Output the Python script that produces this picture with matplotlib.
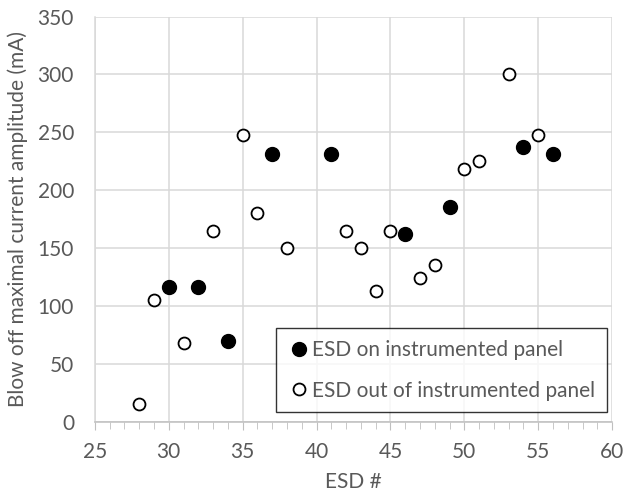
import numpy as np
import matplotlib
matplotlib.use('Agg')
import matplotlib.pyplot as plt
from matplotlib.ticker import MultipleLocator

plt.rcParams['font.family'] = ['Lato', 'DejaVu Sans']

# ESD on instrumented panel (filled)
on_esd = [30, 32, 34, 37, 41, 46, 49, 54, 56]
on_amp = [116, 116, 70, 231, 231, 162, 185, 237, 231]

# ESD out of instrumented panel (open)
out_esd = [28, 29, 31, 33, 35, 36, 38, 42, 43, 44, 45, 47, 48, 50, 51, 53, 55]
out_amp = [15, 105, 68, 165, 248, 180, 150, 165, 150, 113, 165, 124, 135, 218, 225, 300, 248]

text_col = '#595959'
grid_col = '#d9d9d9'
fs = 15

fig = plt.figure(figsize=(6.24, 4.93), dpi=100)
ax = fig.add_axes([0.152, 0.145, 0.829, 0.8215])

ax.plot(on_esd, on_amp, 'o', ms=10, color='black', mec='black',
        label='ESD on instrumented panel', zorder=3)
ax.plot(out_esd, out_amp, 'o', ms=8.6, mfc='white', mec='black', mew=1.3,
        label='ESD out of instrumented panel', zorder=3)

ax.set_xlim(25, 60)
ax.set_ylim(0, 350)
ax.xaxis.set_major_locator(MultipleLocator(5))
ax.xaxis.set_minor_locator(MultipleLocator(1))
ax.yaxis.set_major_locator(MultipleLocator(50))
ax.grid(True, which='major', color=grid_col, lw=1.1, zorder=0)
ax.set_axisbelow(True)

for s in ['top', 'right']:
    ax.spines[s].set_visible(False)
for s in ['left', 'bottom']:
    ax.spines[s].set_color(grid_col)
    ax.spines[s].set_linewidth(1.1)
ax.spines['bottom'].set_color('#bfbfbf')

ax.tick_params(axis='x', which='both', direction='out', color='#bfbfbf',
               labelcolor=text_col, labelsize=fs, pad=9)
ax.tick_params(axis='x', which='major', length=6)
ax.tick_params(axis='x', which='minor', length=5)
ax.tick_params(axis='y', length=0, labelcolor=text_col, labelsize=fs, pad=15)

ax.set_xlabel('ESD #', color=text_col, fontsize=fs, labelpad=7)
ax.set_ylabel('Blow off maximal current amplitude (mA)', color=text_col, fontsize=fs, labelpad=7)

leg = ax.legend(loc='lower right', bbox_to_anchor=(0.99, 0.023), fontsize=fs,
                frameon=True, fancybox=False, edgecolor='black', labelcolor=text_col,
                handletextpad=0.1, borderpad=0.55, labelspacing=1.0, handlelength=1.1,
                borderaxespad=0)
leg.get_frame().set_linewidth(1.0)

fig.savefig('out.png', dpi=100)
